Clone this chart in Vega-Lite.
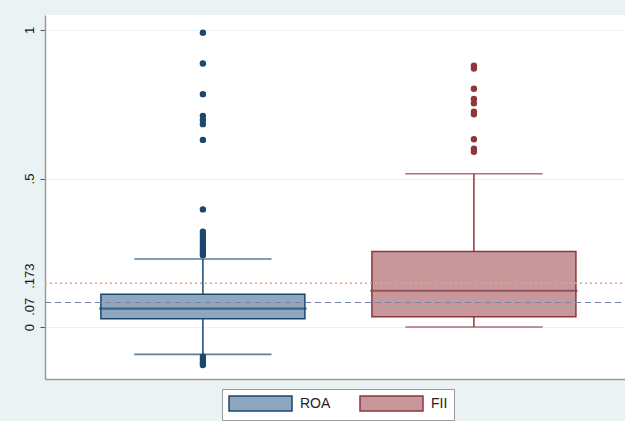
{
  "$schema": "https://vega.github.io/schema/vega-lite/v6.json",
  "width": 580,
  "height": 364,
  "autosize": {"type": "none"},
  "padding": {"left": 45, "top": 15, "right": 0, "bottom": 42},
  "background": "#eaf2f3",
  "config": {
    "view": {"fill": "white", "stroke": null},
    "font": "Liberation Sans",
    "legend": {
      "orient": "none",
      "legendX": 177,
      "legendY": 374,
      "direction": "horizontal",
      "symbolType": "M-1,-1H7.4V1H-1Z",
      "symbolSize": 225,
      "symbolStrokeWidth": 1.5,
      "symbolOpacity": 1,
      "labelOffset": 55,
      "labelFontSize": 14,
      "labelColor": "#222222",
      "labelFont": "Liberation Sans",
      "columnPadding": 26,
      "padding": 6,
      "fillColor": "white",
      "strokeColor": "#999999"
    }
  },
  "datasets": {
    "boxes": [
      {"var": "ROA", "lower": -0.092, "q1": 0.028, "median": 0.062, "q3": 0.110, "upper": 0.229},
      {"var": "FII", "lower": 0.0, "q1": 0.035, "median": 0.122, "q3": 0.254, "upper": 0.516}
    ],
    "outliers": [
      {"var": "ROA", "value": 0.991}, {"var": "ROA", "value": 0.887}, {"var": "ROA", "value": 0.784},
      {"var": "ROA", "value": 0.711}, {"var": "ROA", "value": 0.697}, {"var": "ROA", "value": 0.683},
      {"var": "ROA", "value": 0.630}, {"var": "ROA", "value": 0.396}, {"var": "ROA", "value": 0.321},
      {"var": "ROA", "value": 0.310}, {"var": "ROA", "value": 0.300}, {"var": "ROA", "value": 0.290},
      {"var": "ROA", "value": 0.280}, {"var": "ROA", "value": 0.270}, {"var": "ROA", "value": 0.260},
      {"var": "ROA", "value": 0.250}, {"var": "ROA", "value": 0.242}, {"var": "ROA", "value": -0.100},
      {"var": "ROA", "value": -0.110}, {"var": "ROA", "value": -0.120}, {"var": "ROA", "value": -0.128},
      {"var": "FII", "value": 0.880}, {"var": "FII", "value": 0.870}, {"var": "FII", "value": 0.802},
      {"var": "FII", "value": 0.768}, {"var": "FII", "value": 0.753}, {"var": "FII", "value": 0.725},
      {"var": "FII", "value": 0.716}, {"var": "FII", "value": 0.632}, {"var": "FII", "value": 0.600},
      {"var": "FII", "value": 0.590}
    ],
    "reflines": [
      {"line": "ROA", "value": 0.0825},
      {"line": "FII", "value": 0.147}
    ]
  },
  "encoding": {
    "x": {
      "field": "var", "type": "nominal",
      "scale": {"type": "point", "domain": ["ROA", "FII"], "padding": 0.57, "align": 0.511},
      "axis": {"labels": false, "ticks": false, "title": null, "grid": false, "domainColor": "#9a9a9a", "domainWidth": 1.5}
    }
  },
  "layer": [
    {
      "data": {"name": "boxes"},
      "mark": {"type": "bar", "size": 204, "strokeWidth": 1.5, "fillOpacity": 1},
      "encoding": {
        "y": {
          "field": "q1", "type": "quantitative",
          "scale": {"domain": [-0.175, 1.0505], "nice": false, "zero": false},
          "axis": {
            "title": null,
            "values": [0, 0.07, 0.173, 0.5, 1],
            "labelExpr": "datum.value == 0 ? '0' : datum.value == 1 ? '1' : replace(toString(datum.value), '0.', '.')",
            "labelAngle": -90,
            "labelFontSize": 13,
            "labelColor": "#111111",
            "labelPadding": 4,
            "tickSize": 5,
            "tickColor": "#555555",
            "tickOpacity": {"condition": {"test": "datum.value == 0.07 || datum.value == 0.173", "value": 0}, "value": 1},
            "domainColor": "#9a9a9a",
            "domainWidth": 1.5,
            "grid": true,
            "gridColor": "#eaf2f3",
            "gridWidth": 1.2,
            "gridOpacity": {"condition": {"test": "datum.value == 0.07 || datum.value == 0.173", "value": 0}, "value": 1}
          }
        },
        "y2": {"field": "q3"},
        "fill": {
          "field": "var", "type": "nominal",
          "scale": {"domain": ["ROA", "FII"], "range": ["#8fa7be", "#c7989b"]},
          "legend": {"title": null}
        },
        "stroke": {
          "field": "var", "type": "nominal",
          "scale": {"domain": ["ROA", "FII"], "range": ["#1a476f", "#90353b"]},
          "legend": {"title": null}
        }
      }
    },
    {
      "data": {"name": "boxes"},
      "mark": {"type": "rule", "strokeWidth": 1.5},
      "encoding": {
        "y": {"field": "q3", "type": "quantitative"},
        "y2": {"field": "upper"},
        "stroke": {"field": "var", "type": "nominal"}
      }
    },
    {
      "data": {"name": "boxes"},
      "mark": {"type": "rule", "strokeWidth": 1.5},
      "encoding": {
        "y": {"field": "lower", "type": "quantitative"},
        "y2": {"field": "q1"},
        "stroke": {"field": "var", "type": "nominal"}
      }
    },
    {
      "data": {"name": "boxes"},
      "mark": {"type": "tick", "size": 136, "thickness": 0.3, "filled": false, "strokeWidth": 1.3},
      "encoding": {
        "y": {"field": "upper", "type": "quantitative"},
        "stroke": {"field": "var", "type": "nominal"}
      }
    },
    {
      "data": {"name": "boxes"},
      "mark": {"type": "tick", "size": 136, "thickness": 0.3, "filled": false, "strokeWidth": 1.3},
      "encoding": {
        "y": {"field": "lower", "type": "quantitative"},
        "stroke": {"field": "var", "type": "nominal"}
      }
    },
    {
      "data": {"name": "boxes"},
      "mark": {"type": "tick", "size": 206, "thickness": 0.5, "filled": false, "strokeWidth": 1.6},
      "encoding": {
        "y": {"field": "median", "type": "quantitative"},
        "stroke": {"field": "var", "type": "nominal"}
      }
    },
    {
      "data": {"name": "outliers"},
      "mark": {"type": "point", "filled": false, "size": 9, "strokeWidth": 3.4, "opacity": 1},
      "encoding": {
        "y": {"field": "value", "type": "quantitative"},
        "stroke": {"field": "var", "type": "nominal"}
      }
    },
    {
      "data": {"name": "reflines"},
      "transform": [{"filter": "datum.line == 'ROA'"}],
      "mark": {"type": "rule", "stroke": "#7585aa", "strokeWidth": 1.2, "strokeDash": [6, 4]},
      "encoding": {
        "x": {"value": 0},
        "x2": {"value": 580},
        "y": {"field": "value", "type": "quantitative"}
      }
    },
    {
      "data": {"name": "reflines"},
      "transform": [{"filter": "datum.line == 'FII'"}],
      "mark": {"type": "rule", "stroke": "#f0a068", "strokeWidth": 1.5, "strokeDash": [2, 3]},
      "encoding": {
        "x": {"value": 0},
        "x2": {"value": 580},
        "y": {"field": "value", "type": "quantitative"}
      }
    }
  ]
}
